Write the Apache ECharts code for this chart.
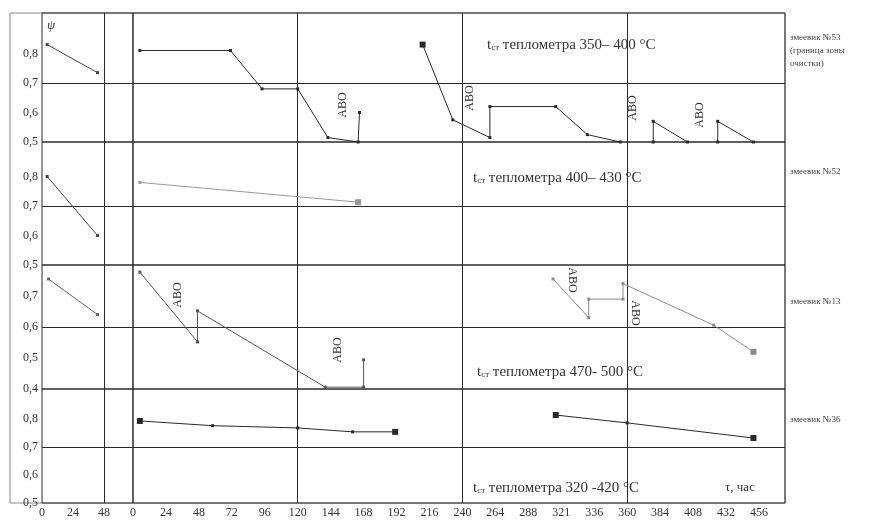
<!DOCTYPE html>
<html>
<head>
<meta charset="utf-8">
<script src="https://cdn.jsdelivr.net/npm/echarts@6/dist/echarts.min.js"></script>
<style>
html, body { margin: 0; padding: 0; background: #fff; }
#chart { width: 880px; height: 522px; }
</style>
</head>
<body>
<div id="chart"></div>
<script>
// tick labels (hours) - the "321" typo is in the original
var xTicksLeft = ['0', '24', '48'];
var xTicksRight = ['0', '24', '48', '72', '96', '120', '144', '168', '192', '216', '240',
    '264', '288', '321', '336', '360', '384', '408', '432', '456'];

var yTicksA = [0.5, 0.6, 0.7, 0.8];
var yTicksB = [0.5, 0.6, 0.7, 0.8];
var yTicksC = [0.4, 0.5, 0.6, 0.7];
var yTicksD = [0.5, 0.6, 0.7, 0.8];

// psi vs time [h, psi]
var psiA_left = [[4, 0.83], [43, 0.735]];
var psiA_1 = [[5, 0.81], [71, 0.81], [94, 0.68], [120, 0.68], [142, 0.515], [164, 0.5], [165, 0.6]];
var psiA_2 = [[211, 0.83], [233, 0.575], [260, 0.515], [260, 0.62], [308, 0.62], [331, 0.525], [355, 0.5]];
var psiA_3 = [[379, 0.5], [379, 0.57], [404, 0.5]];
var psiA_4 = [[426, 0.5], [426, 0.57], [452, 0.5]];

var psiB_left = [[4, 0.80], [43, 0.60]];
var psiB_1 = [[5, 0.78], [164, 0.713]];

var psiC_left = [[5, 0.755], [43, 0.64]];
var psiC_1 = [[5, 0.777], [47, 0.552], [47, 0.652], [140, 0.406], [168, 0.406], [168, 0.494]];
var psiC_2 = [[306, 0.755], [332, 0.63], [332, 0.69], [357, 0.69], [357, 0.74], [423, 0.606], [452, 0.52]];

var psiD_1 = [[5, 0.793], [58, 0.776], [120, 0.768], [160, 0.754], [191, 0.754]];
var psiD_2 = [[308, 0.814], [360, 0.786], [452, 0.732]];

var INK = '#2a2a2a';
var NONE = 'rgba(0,0,0,0)';
var FONT = "'Liberation Serif', 'DejaVu Serif', serif";

var panels = [
    { top: 13, height: 129, min: 0.5, max: 0.937, line: 0.7, ticks: yTicksA },
    { top: 142, height: 123, min: 0.5, max: 0.917, line: 0.7, ticks: yTicksB },
    { top: 265, height: 124, min: 0.4, max: 0.8, line: 0.6, ticks: yTicksC },
    { top: 389, height: 114, min: 0.5, max: 0.907, line: 0.7, ticks: yTicksD }
];

var leftMax = 70.45;
var rightMax = 475;

// colour per tick so only the wanted split lines show
function splitColors(min, max, step, keep) {
    var out = [];
    var k = 0;
    var v = min;
    while (v <= max + 1e-9) {
        out.push(keep(v) ? INK : NONE);
        k++;
        v = min + k * step;
    }
    if (Math.abs(min + (k - 1) * step - max) > 1e-6) out.push(NONE);
    return out;
}

function near(a, b) { return Math.abs(a - b) < 1e-6; }

var grid = [{ left: 10, top: 13, right: 95, bottom: 19, show: true, borderColor: '#8a8a8a', borderWidth: 1, backgroundColor: NONE }];
var xAxis = [{ gridIndex: 0, type: 'value', show: false, min: 0, max: 1 }];
var yAxis = [{ gridIndex: 0, type: 'value', show: false, min: 0, max: 1 }];

panels.forEach(function (p, i) {
    var last = i === panels.length - 1;
    var yColors = splitColors(p.min, p.max, 0.1, function (v) { return near(v, p.line); });
    grid.push({ left: 42, width: 91, top: p.top, height: p.height, show: true,
        borderColor: INK, borderWidth: 1, backgroundColor: NONE });
    grid.push({ left: 133, right: 95, top: p.top, height: p.height, show: true,
        borderColor: INK, borderWidth: 1, backgroundColor: NONE });

    xAxis.push({
        gridIndex: 1 + 2 * i, type: 'value', min: 0, max: leftMax, interval: 24,
        axisLine: { show: false }, axisTick: { show: false },
        splitLine: { show: true, lineStyle: { width: 1, color: splitColors(0, leftMax, 24, function (v) { return near(v, 48); }) } },
        axisLabel: {
            show: last, margin: 4, color: '#333', fontFamily: FONT, fontSize: 12,
            formatter: function (v) {
                var k = Math.round(v / 24);
                return near(v, k * 24) && xTicksLeft[k] ? xTicksLeft[k] : '';
            }
        }
    });
    xAxis.push({
        gridIndex: 2 + 2 * i, type: 'value', min: 0, max: rightMax, interval: 24,
        axisLine: { show: false }, axisTick: { show: false },
        splitLine: { show: true, lineStyle: { width: 1, color: splitColors(0, rightMax, 24, function (v) { return v > 0 && near(v % 120, 0); }) } },
        axisLabel: {
            show: last, margin: 4, color: '#333', fontFamily: FONT, fontSize: 12,
            formatter: function (v) {
                var k = Math.round(v / 24);
                return near(v, k * 24) && xTicksRight[k] ? xTicksRight[k] : '';
            }
        }
    });

    var yBase = {
        type: 'value', min: p.min, max: p.max, interval: 0.1,
        axisLine: { show: false }, axisTick: { show: false },
        splitLine: { show: true, lineStyle: { width: 1, color: yColors } }
    };
    yAxis.push(Object.assign({}, yBase, {
        gridIndex: 1 + 2 * i,
        axisLabel: {
            show: true, margin: 4, color: '#333', fontFamily: FONT, fontSize: 12,
            formatter: function (v) {
                for (var j = 0; j < p.ticks.length; j++) {
                    if (near(v, p.ticks[j])) return p.ticks[j].toFixed(1).replace('.', ',');
                }
                return '';
            }
        }
    }));
    yAxis.push(Object.assign({}, yBase, { gridIndex: 2 + 2 * i, axisLabel: { show: false } }));
});

// panel index, side (0 = left block, 1 = right block), colour, big end markers
var seriesDefs = [
    { data: psiA_left, panel: 0, side: 0, color: '#444', big: [] },
    { data: psiA_1, panel: 0, side: 1, color: INK, big: [] },
    { data: psiA_2, panel: 0, side: 1, color: INK, big: [0] },
    { data: psiA_3, panel: 0, side: 1, color: INK, big: [] },
    { data: psiA_4, panel: 0, side: 1, color: INK, big: [] },
    { data: psiB_left, panel: 1, side: 0, color: '#444', big: [] },
    { data: psiB_1, panel: 1, side: 1, color: '#9a9a9a', big: [1] },
    { data: psiC_left, panel: 2, side: 0, color: '#666', big: [] },
    { data: psiC_1, panel: 2, side: 1, color: '#555', big: [] },
    { data: psiC_2, panel: 2, side: 1, color: '#8c8c8c', big: [6] },
    { data: psiD_1, panel: 3, side: 1, color: INK, big: [0, 4] },
    { data: psiD_2, panel: 3, side: 1, color: INK, big: [0, 2] }
];

var series = seriesDefs.map(function (s) {
    var idx = 1 + 2 * s.panel + s.side;
    return {
        type: 'line', xAxisIndex: idx, yAxisIndex: idx, data: s.data,
        symbol: 'rect', showSymbol: true,
        symbolSize: function (val, params) { return s.big.indexOf(params.dataIndex) >= 0 ? 6 : 3; },
        itemStyle: { color: s.color },
        lineStyle: { color: s.color, width: 1 },
        silent: true
    };
});

function note(x, y, text, size, rot) {
    return {
        type: 'text', x: x, y: y, rotation: rot || 0, silent: true,
        style: { text: text, fill: '#333', font: size + 'px ' + FONT, align: 'center', verticalAlign: 'middle' }
    };
}

function tempNote(x, y, range) {
    return {
        type: 'text', x: x, y: y, silent: true,
        style: {
            text: '{t|t}{s|ст} теплометра ' + range, fill: '#333', font: '15px ' + FONT,
            align: 'left', verticalAlign: 'middle',
            rich: {
                t: { font: '15px ' + FONT, fill: '#333' },
                s: { font: '9px ' + FONT, fill: '#333', padding: [6, 0, 0, 0] }
            }
        }
    };
}

function sideNote(x, y, text) {
    return {
        type: 'text', x: x, y: y, silent: true,
        style: { text: text, fill: '#444', font: '9px ' + FONT, align: 'left', verticalAlign: 'middle', lineHeight: 13 }
    };
}

var up = Math.PI / 2;
var graphic = [
    { type: 'text', x: 47, y: 26, silent: true,
        style: { text: 'ψ', fill: '#333', font: 'italic 13px ' + FONT, align: 'left', verticalAlign: 'middle' } },
    tempNote(487, 45, '350– 400 °C'),
    tempNote(473, 178, '400– 430 °C'),
    tempNote(477, 372, '470- 500 °C'),
    tempNote(473, 488, '320 -420 °C'),
    note(740, 488, 'τ, час', 13),
    sideNote(790, 51, 'змеевик №53\n(граница зоны\nочистки)'),
    sideNote(790, 172, 'змеевик №52'),
    sideNote(790, 302, 'змеевик №13'),
    sideNote(790, 420, 'змеевик №36'),
    note(343, 105, 'АВО', 12, up),
    note(470, 98, 'АВО', 12, up),
    note(633, 108, 'АВО', 12, up),
    note(700, 115, 'АВО', 12, up),
    note(178, 295, 'АВО', 12, up),
    note(338, 350, 'АВО', 12, up),
    note(572, 280, 'АВО', 12, -up),
    note(635, 313, 'АВО', 12, -up)
];

var chart = echarts.init(document.getElementById('chart'));
chart.setOption({
    animation: false,
    backgroundColor: '#fff',
    grid: grid,
    xAxis: xAxis,
    yAxis: yAxis,
    series: series,
    graphic: graphic
});
</script>
</body>
</html>
